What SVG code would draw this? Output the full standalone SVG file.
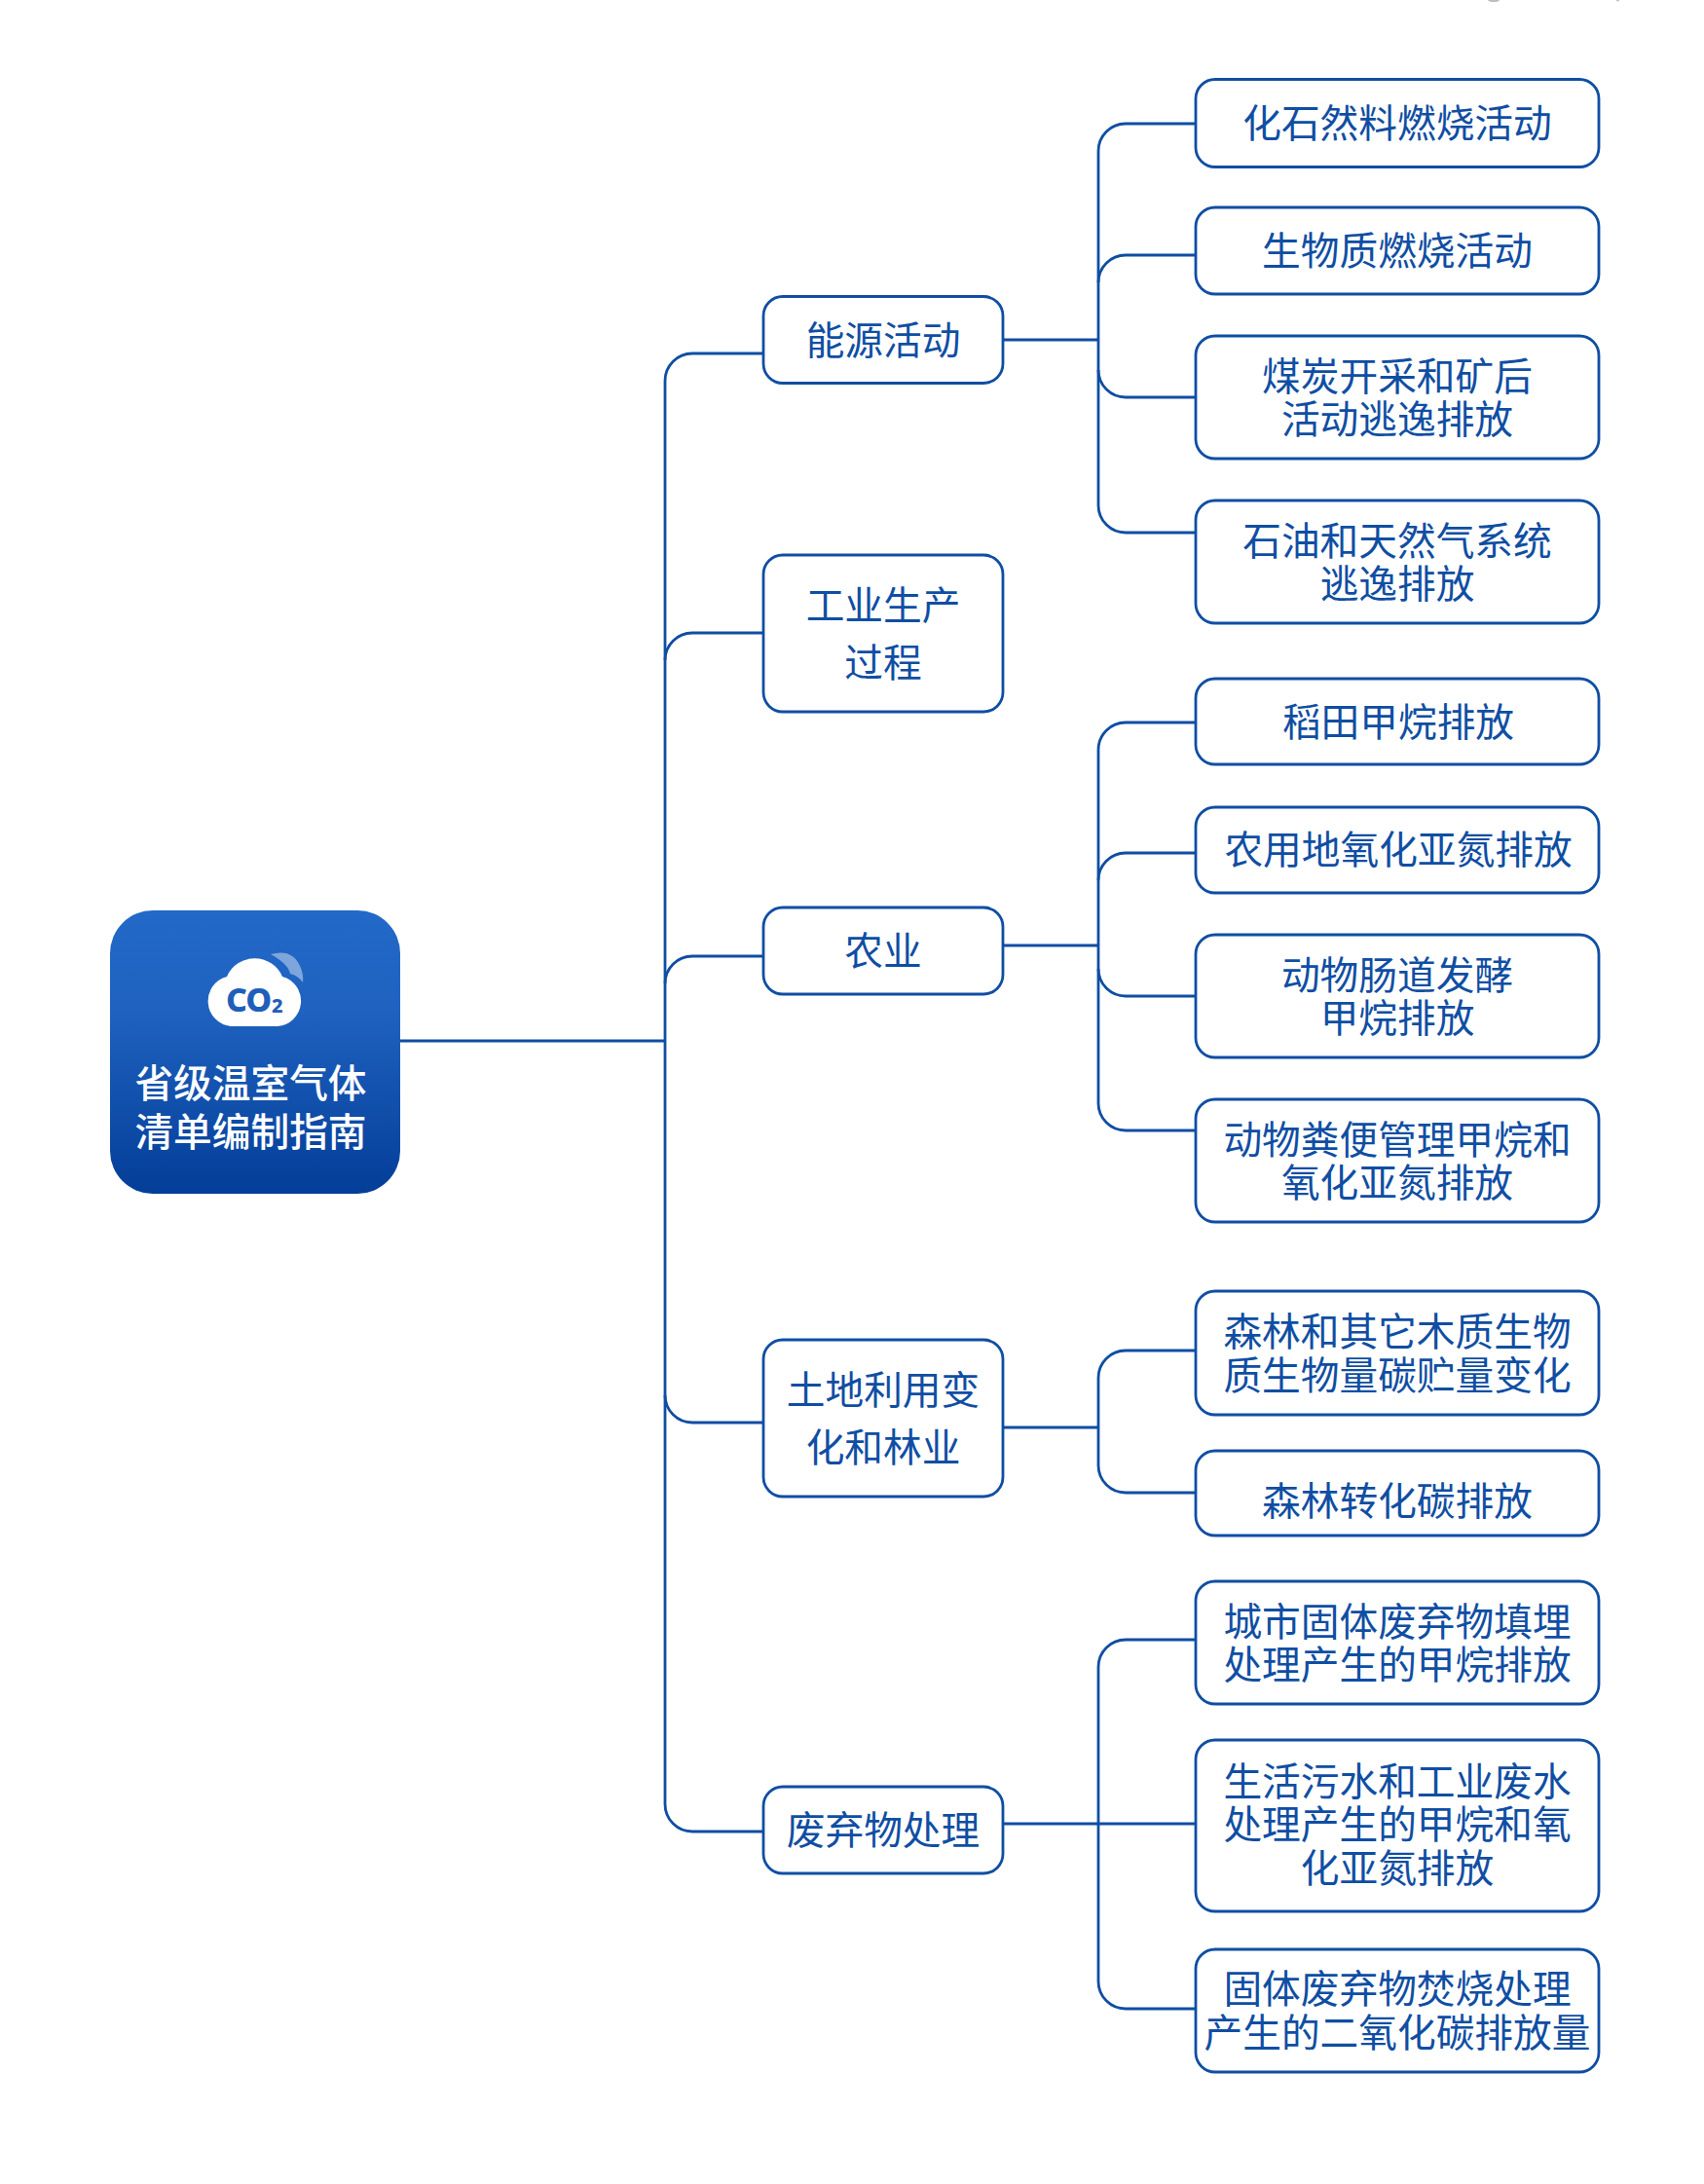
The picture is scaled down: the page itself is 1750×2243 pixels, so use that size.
<svg xmlns="http://www.w3.org/2000/svg" width="1750" height="2243" viewBox="0 0 1750 2243">
<style>
.n{fill:#fff;stroke:#0f4ea3;stroke-width:2.800}
.c{fill:none;stroke:#0f4ea3;stroke-width:2.800}
text{font-family:"Noto Sans CJK SC","Noto Sans",sans-serif;font-size:39.700px;fill:#0f4ea3;text-anchor:middle}
.r{fill:#fff;font-weight:500}
.co{font-family:"Noto Sans",sans-serif;font-weight:800;fill:#1e5fba;text-anchor:start}
</style>
<defs><linearGradient id="g" x1="0" y1="0" x2="0" y2="1"><stop offset="0" stop-color="#2269c8"/><stop offset="0.35" stop-color="#1f62bf"/><stop offset="1" stop-color="#033e98"/></linearGradient></defs>
<rect width="1750" height="2243" fill="#fff"/>
<g id="top-marks" fill="#bdbdbd"><ellipse cx="1534" cy="0" rx="6" ry="2"/><ellipse cx="1661.500" cy="0" rx="1.500" ry="1.500"/></g>
<g id="connectors">
<path class="c" d="M411 1069H683"/>
<path class="c" d="M784 363H711a28 28 0 0 0-28 28V1853a28 28 0 0 0 28 28H784"/>
<path class="c" d="M784 650H711a28 28 0 0 0-28 28"/>
<path class="c" d="M784 982H711a28 28 0 0 0-28 28"/>
<path class="c" d="M784 1461H711a28 28 0 0 1-28-28"/>
<path class="c" d="M1030 349H1128"/>
<path class="c" d="M1228 127H1156a28 28 0 0 0-28 28V519a28 28 0 0 0 28 28H1228"/>
<path class="c" d="M1228 262H1156a28 28 0 0 0-28 28"/>
<path class="c" d="M1228 408H1156a28 28 0 0 1-28-28"/>
<path class="c" d="M1030 971H1128"/>
<path class="c" d="M1228 742H1156a28 28 0 0 0-28 28V1133a28 28 0 0 0 28 28H1228"/>
<path class="c" d="M1228 876H1156a28 28 0 0 0-28 28"/>
<path class="c" d="M1228 1023H1156a28 28 0 0 1-28-28"/>
<path class="c" d="M1030 1466H1128"/>
<path class="c" d="M1228 1387H1156a28 28 0 0 0-28 28V1505a28 28 0 0 0 28 28H1228"/>
<path class="c" d="M1030 1873H1228"/>
<path class="c" d="M1228 1684H1156a28 28 0 0 0-28 28V2035a28 28 0 0 0 28 28H1228"/>
</g>
<g id="root">
<rect x="113" y="935" width="298" height="291" rx="44" fill="url(#g)"/>
<path d="M278 980Q300 974 308 992Q312 1000 311 1009Q306 1002 298 1000Q296 990 278 980z" fill="#7ea6dc"/>
<path d="M237 1054A26 26 0 0 1 233 1003A31 31 0 0 1 290 1003A26 26 0 0 1 285 1054z" fill="#fff"/>
<text class="co" x="232" y="1039" style="font-size:34px;letter-spacing:-1px">CO</text>
<text class="co" x="279" y="1040" style="font-size:20px">2</text>
<text class="r" x="257.500" y="1127">省级温室气体</text>
<text class="r" x="257.500" y="1177">清单编制指南</text>
</g>
<g id="m1"><rect class="n" x="784" y="304.500" width="246" height="89" rx="20"/><text x="907" y="364">能源活动</text></g>
<g id="m2"><rect class="n" x="784" y="570" width="246" height="161" rx="20"/><text x="907" y="636">工业生产</text><text x="907" y="695">过程</text></g>
<g id="m3"><rect class="n" x="784" y="932" width="246" height="89" rx="20"/><text x="907" y="991">农业</text></g>
<g id="m4"><rect class="n" x="784" y="1376" width="246" height="161" rx="20"/><text x="907" y="1442">土地利用变</text><text x="907" y="1501">化和林业</text></g>
<g id="m5"><rect class="n" x="784" y="1835" width="246" height="89" rx="20"/><text x="907" y="1894">废弃物处理</text></g>
<g id="l1"><rect class="n" x="1228" y="81.500" width="414" height="90" rx="20"/><text x="1435" y="141">化石然料燃烧活动</text></g>
<g id="l2"><rect class="n" x="1228" y="213" width="414" height="89" rx="20"/><text x="1435" y="272">生物质燃烧活动</text></g>
<g id="l3"><rect class="n" x="1228" y="345" width="414" height="126" rx="20"/><text x="1435" y="401">煤炭开采和矿后</text><text x="1435" y="445">活动逃逸排放</text></g>
<g id="l4"><rect class="n" x="1228" y="514" width="414" height="126" rx="20"/><text x="1435" y="570">石油和天然气系统</text><text x="1435" y="614">逃逸排放</text></g>
<g id="l5"><rect class="n" x="1228" y="697" width="414" height="88" rx="20"/><text x="1436" y="756">稻田甲烷排放</text></g>
<g id="l6"><rect class="n" x="1228" y="829" width="414" height="88" rx="20"/><text x="1436" y="887">农用地氧化亚氮排放</text></g>
<g id="l7"><rect class="n" x="1228" y="960" width="414" height="126" rx="20"/><text x="1435" y="1016">动物肠道发酵</text><text x="1435" y="1060">甲烷排放</text></g>
<g id="l8"><rect class="n" x="1228" y="1129" width="414" height="126" rx="20"/><text x="1435" y="1185">动物粪便管理甲烷和</text><text x="1435" y="1229">氧化亚氮排放</text></g>
<g id="l9"><rect class="n" x="1228" y="1326" width="414" height="127" rx="20"/><text x="1435" y="1382">森林和其它木质生物</text><text x="1435" y="1427">质生物量碳贮量变化</text></g>
<g id="l10"><rect class="n" x="1228" y="1490" width="414" height="87" rx="20"/><text x="1435" y="1556">森林转化碳排放</text></g>
<g id="l11"><rect class="n" x="1228" y="1624" width="414" height="126" rx="20"/><text x="1435" y="1680">城市固体废弃物填埋</text><text x="1435" y="1724">处理产生的甲烷排放</text></g>
<g id="l12"><rect class="n" x="1228" y="1787" width="414" height="176" rx="20"/><text x="1435" y="1844">生活污水和工业废水</text><text x="1435" y="1888">处理产生的甲烷和氧</text><text x="1435" y="1933">化亚氮排放</text></g>
<g id="l13"><rect class="n" x="1228" y="2002" width="414" height="126" rx="20"/><text x="1435" y="2057">固体废弃物焚烧处理</text><text x="1435" y="2102">产生的二氧化碳排放量</text></g>
</svg>
